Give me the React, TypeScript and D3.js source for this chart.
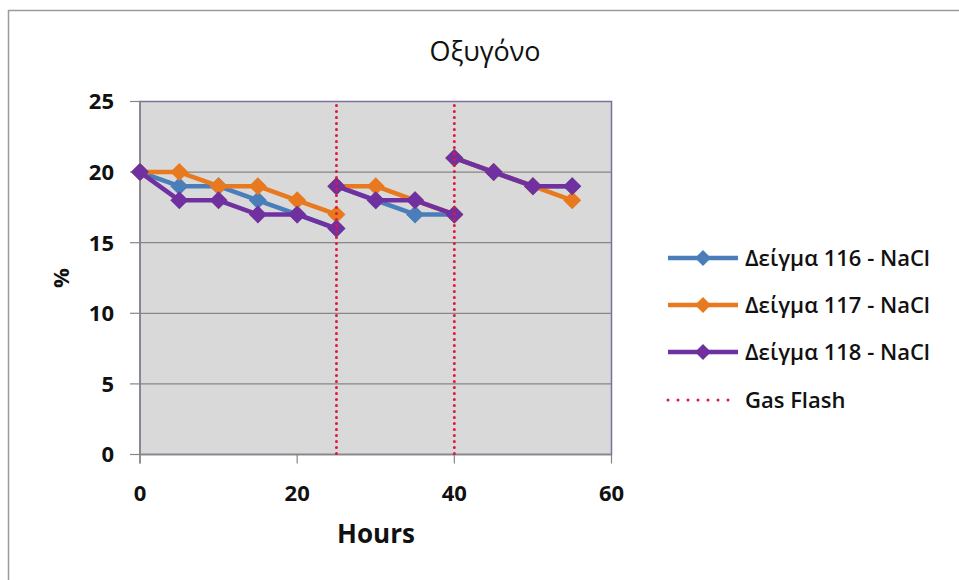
import React from "react";
import * as d3 from "d3";

const hours: (number | null)[] = [0, 5, 10, 15, 20, 25, null, 25, 30, 35, 40, null, 40, 45, 50, 55];
const sample116: (number | null)[] = [20, 19, 19, 18, 17, 16, null, 19, 18, 17, 17, null, 21, 20, 19, 19];
const sample117: (number | null)[] = [20, 20, 19, 19, 18, 17, null, 19, 19, 18, 17, null, 21, 20, 19, 18];
const sample118: (number | null)[] = [20, 18, 18, 17, 17, 16, null, 19, 18, 18, 17, null, 21, 20, 19, 19];
const seriesNames = ["Δείγμα 116 - NaCl", "Δείγμα 117 - NaCl", "Δείγμα 118 - NaCl"];
const seriesColors = ["#4a7ebb", "#e8791f", "#7030a0"];
const gasFlashHours = [25, 40];
const xTicks = [0, 20, 40, 60];
const yTicks = [0, 5, 10, 15, 20, 25];
const title = "Οξυγόνο";
const xLabel = "Hours";
const yLabel = "%";
const gasLabel = "Gas Flash";

const W = 959, H = 580;
const plot = { left: 140, top: 101.5, right: 611.5, bottom: 454.5 };
const font = "'Open Sans', 'Noto Sans', sans-serif";

export default function App() {
  const x = d3.scaleLinear().domain([0, 60]).range([plot.left, plot.right]);
  const y = d3.scaleLinear().domain([0, 25]).range([plot.bottom, plot.top]);
  const allSeries = [sample116, sample117, sample118];
  const diamond = (cx: number, cy: number, r: number) =>
    `M${cx},${cy - r}L${cx + r},${cy}L${cx},${cy + r}L${cx - r},${cy}Z`;

  const legendRows = [258, 305, 352, 400];
  const legendX0 = 668, legendX1 = 738, legendText = 745;

  return (
    <svg width={W} height={H} style={{ position: "absolute", left: 0, top: 0, background: "#fff" }}>
      <rect x={0} y={0} width={W} height={H} fill="#fff" />
      {/* outer frame */}
      <path d={`M8.5,${H + 2}V10.5H${W + 2}`} fill="none" stroke="#9a9a9a" strokeWidth={1.5} />
      <text x={485} y={61} textAnchor="middle" fontFamily={font} fontSize={27} fill="#111">{title}</text>

      {/* plot area */}
      <rect x={plot.left} y={plot.top} width={plot.right - plot.left} height={plot.bottom - plot.top} fill="#d9d9d9" />
      {yTicks.map((t) => (
        <g key={"y" + t}>
          {t > 0 && t < 25 && (
            <line x1={plot.left} x2={plot.right} y1={y(t)} y2={y(t)} stroke="#868686" strokeWidth={1.2} />
          )}
          <line x1={plot.left - 10} x2={plot.left} y1={y(t)} y2={y(t)} stroke="#868686" strokeWidth={1.2} />
          <text x={114} y={y(t)} dy="0.36em" textAnchor="end" fontFamily={font} fontWeight={700} fontSize={22} fill="#111">{t}</text>
        </g>
      ))}
      <rect x={plot.left} y={plot.top} width={plot.right - plot.left} height={plot.bottom - plot.top} fill="none" stroke="#7d6f9c" strokeWidth={1.5} />
      <line x1={plot.left} x2={plot.left} y1={plot.top} y2={plot.bottom + 9} stroke="#868686" strokeWidth={1.5} />
      <line x1={plot.left} x2={plot.right} y1={plot.bottom} y2={plot.bottom} stroke="#868686" strokeWidth={1.5} />
      {xTicks.map((t) => (
        <g key={"x" + t}>
          <line x1={x(t)} x2={x(t)} y1={plot.bottom} y2={plot.bottom + 9} stroke="#868686" strokeWidth={1.2} />
          <text x={x(t)} y={493} dy="0.36em" textAnchor="middle" fontFamily={font} fontWeight={700} fontSize={22} fill="#111">{t}</text>
        </g>
      ))}
      <text x={376} y={534} dy="0.36em" textAnchor="middle" fontFamily={font} fontWeight={700} fontSize={26} fill="#111">{xLabel}</text>
      <text transform="translate(61,278) rotate(-90)" dy="0.36em" textAnchor="middle" fontFamily={font} fontWeight={700} fontSize={22} fill="#111">{yLabel}</text>

      {/* series */}
      {allSeries.map((vals, si) => {
        const pts = hours.map((h, i) => ({ h, v: vals[i] }));
        const line = d3
          .line<{ h: number | null; v: number | null }>()
          .defined((d) => d.h != null && d.v != null)
          .x((d) => x(d.h as number))
          .y((d) => y(d.v as number));
        return (
          <g key={"s" + si}>
            <path d={line(pts) || ""} fill="none" stroke={seriesColors[si]} strokeWidth={4.5} strokeLinejoin="round" />
            {pts.filter((d) => d.h != null && d.v != null).map((d, i) => (
              <path key={i} d={diamond(x(d.h as number), y(d.v as number), 9)} fill={seriesColors[si]} />
            ))}
          </g>
        );
      })}

      {/* gas flash lines */}
      {gasFlashHours.map((g) => (
        <line key={"g" + g} x1={x(g)} x2={x(g)} y1={plot.top + 4} y2={plot.bottom} stroke="#e0183c" strokeWidth={3} strokeDasharray="0 6" strokeLinecap="round" />
      ))}

      {/* legend */}
      {seriesNames.map((n, i) => (
        <g key={"l" + i}>
          <line x1={legendX0} x2={legendX1} y1={legendRows[i]} y2={legendRows[i]} stroke={seriesColors[i]} strokeWidth={4.5} />
          <path d={diamond((legendX0 + legendX1) / 2, legendRows[i], 8)} fill={seriesColors[i]} />
          <text x={legendText} y={legendRows[i]} dy="0.36em" fontFamily={font} fontWeight={600} fontSize={22} fill="#111">{n}</text>
        </g>
      ))}
      <line x1={legendX0} x2={legendX1} y1={legendRows[3]} y2={legendRows[3]} stroke="#e0183c" strokeWidth={3} strokeDasharray="0 10" strokeLinecap="round" />
      <text x={legendText} y={legendRows[3]} dy="0.36em" fontFamily={font} fontWeight={600} fontSize={22} fill="#111">{gasLabel}</text>
    </svg>
  );
}
